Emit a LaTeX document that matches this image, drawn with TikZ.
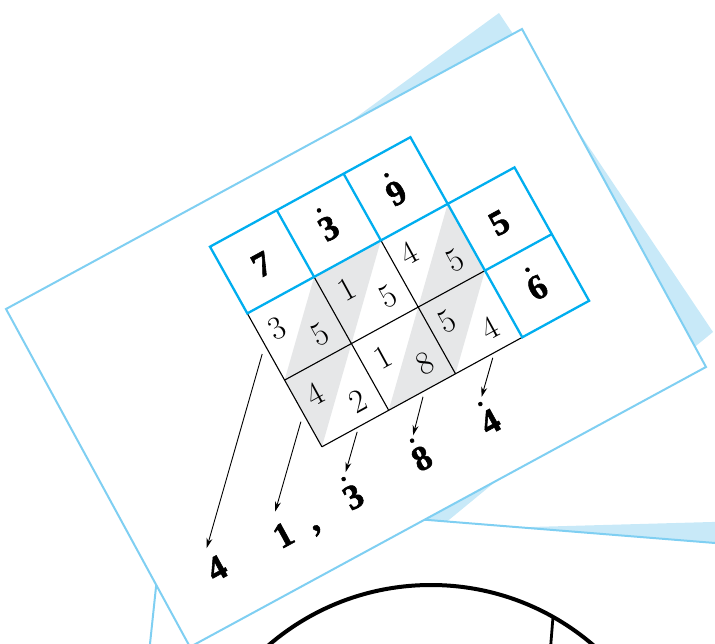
\documentclass[tikz,border=0pt]{standalone}
\usepackage{fontspec}
\newfontfamily\timesf{Liberation Serif}[BoldFeatures={FakeBold=1.6}]
\usetikzlibrary{arrows.meta}
\definecolor{cardline}{HTML}{7FCFF2}
\definecolor{cardfill}{HTML}{C8E9F8}
\definecolor{gridblue}{HTML}{00AEEF}
\definecolor{bandgrey}{HTML}{E6E7E8}
\newcommand\dd[1]{\ooalign{#1\cr\hidewidth\smash{\raisebox{30pt}{\fontsize{25pt}{25pt}\selectfont .}}\hidewidth\cr}}
\tikzset{
  bigdigit/.style={font=\timesf\bfseries\fontsize{35pt}{35pt}\selectfont, inner sep=0pt, rotate=28.65},
  smalldigit/.style={font=\fontsize{33pt}{33pt}\selectfont, inner sep=0pt, rotate=28.65},
  bluegrid/.style={draw=gridblue, line width=2.3pt, line join=miter},
  blackgrid/.style={draw=black, line width=1.1pt},
  readarrow/.style={draw=black, line width=0.9pt, -{Stealth[length=10pt,width=6pt]}},
  cardedge/.style={draw=cardline, line width=2pt, line join=miter},
}
\begin{document}
\begin{tikzpicture}[x=1pt,y=-1pt]
\useasboundingbox (0,0) rectangle (715,644);
\clip (0,0) rectangle (715,644);
% back card behind (top / right)
\fill[cardfill] (330,136.4) -- (499,13) -- (713,332) -- (685,354.9) -- (400,300) -- cycle;
% back card lower right
\fill[cardfill] (520,527.3) -- (730,521.5) -- (730,544.2) -- cycle;
\fill[cardfill] (424.7,519.7) -- (497,480.4) -- (447,521.5) -- cycle;
\draw[cardedge] (148.3,660) -- (165.3,498.9) -- (730,544.2);
% main card
\filldraw[fill=white, cardedge] (6,309) -- (522,29) -- (706,367) -- (190,647) -- cycle;
% lattice
\begin{scope}[shift={(210pt,-246.7pt)}, x={(66.8pt,36.5pt)}, y={(37.3pt,-66.7pt)}]
  \fill[bandgrey] (1,1) -- (2,1) -- (0,3) -- (0,2) -- cycle;
  \fill[bandgrey] (3,1) -- (3,2) -- (2,3) -- (1,3) -- cycle;
  \draw[blackgrid] (0,2) -- (3,2) (0,3) -- (3,3) (0,1) -- (0,3) (1,1) -- (1,3) (2,1) -- (2,3);
  \draw[bluegrid] (0,0) -- (3,0) -- (3,1) -- (4,1) -- (4,3) -- (3,3) -- (3,1) -- (0,1) -- cycle;
  \draw[bluegrid] (1,0) -- (1,1) (2,0) -- (2,1) (3,2) -- (4,2);
  % header digits
  \node[bigdigit] (h7) at (0.48,0.53) {7};
  \node[bigdigit] (h3) at (1.48,0.53) {\dd{3}};
  \node[bigdigit] (h9) at (2.48,0.55) {\dd{9}};
  \node[bigdigit] (h5) at (3.47,1.54) {5};
  \node[bigdigit] (h6) at (3.49,2.52) {\dd{6}};
  % products
  \node[smalldigit] (p1t) at (0.25,1.36) {3};
  \node[smalldigit] (p1u) at (0.70,1.70) {5};
  \node[smalldigit] (p2t) at (1.30,1.35) {1};
  \node[smalldigit] (p2u) at (1.72,1.69) {5};
  \node[smalldigit] (p3t) at (2.24,1.33) {4};
  \node[smalldigit] (p3u) at (2.72,1.69) {5};
  \node[smalldigit] (p4t) at (0.25,2.35) {4};
  \node[smalldigit] (p4u) at (0.70,2.70) {2};
  \node[smalldigit] (p5t) at (1.27,2.35) {1};
  \node[smalldigit] (p5u) at (1.71,2.69) {8};
  \node[smalldigit] (p6t) at (2.24,2.35) {5};
  \node[smalldigit] (p6u) at (2.69,2.69) {4};
  % result digits
  \node[bigdigit] (r1) at (-1.985,3.735) {4};
  \node[bigdigit] (r2) at (-1.008,3.771) {1};
  \node[bigdigit] (rc) at (-0.586,3.93) {,};
  \node[bigdigit] (r3) at (0.040,3.770) {\dd{3}};
  \node[bigdigit] (r4) at (1.071,3.758) {\dd{8}};
  \node[bigdigit] (r5) at (2.088,3.767) {\dd{4}};
  % arrows
  \coordinate (a1s) at (-0.09,1.56); \coordinate (a1t) at (-1.97,3.44);
  \coordinate (a2s) at (-0.08,2.58); \coordinate (a2t) at (-0.95,3.45);
  \coordinate (a3s) at (0.50,3.05);  \coordinate (a3t) at (0.11,3.44);
  \coordinate (a4s) at (1.48,3.06);  \coordinate (a4t) at (1.12,3.44);
  \coordinate (a5s) at (2.53,3.05);  \coordinate (a5t) at (2.15,3.43);
  \draw[readarrow] (a1s) -- (a1t);
  \draw[readarrow] (a2s) -- (a2t);
  \draw[readarrow] (a3s) -- (a3t);
  \draw[readarrow] (a4s) -- (a4t);
  \draw[readarrow] (a5s) -- (a5t);
\end{scope}
% circle at the bottom
\draw[line width=4pt] (431,834) circle (249pt);
\draw[line width=2.8pt] (553,617) -- (550.5,648);
\end{tikzpicture}
\end{document}
